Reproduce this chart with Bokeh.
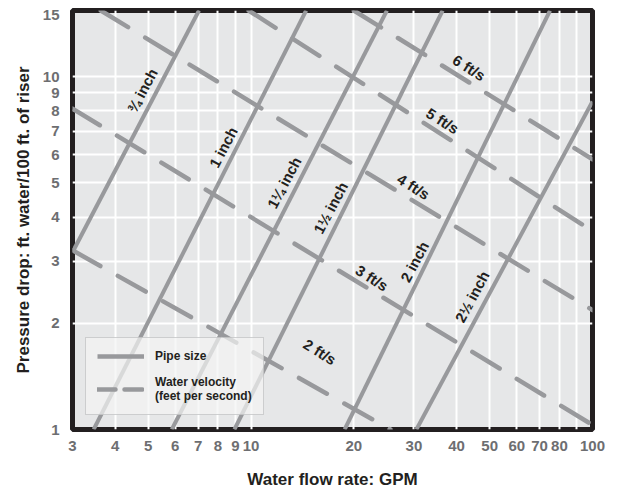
from bokeh.plotting import figure
from bokeh.models import FixedTicker, Legend, LegendItem, ColumnDataSource
from bokeh.core.properties import value
from bokeh.embed import file_html
from bokeh.resources import INLINE

# ---- data ----
x_ticks = [3, 4, 5, 6, 7, 8, 9, 10, 20, 30, 40, 50, 60, 70, 80, 100]
x_tick_labels = ["3", "4", "5", "6", "7", "8", "9", "10", "20", "30", "40", "50", "60", "70", "80", "100"]
x_grid = [3, 4, 5, 6, 7, 8, 9, 10, 20, 30, 40, 50, 60, 70, 80, 90, 100]
y_ticks = [1, 2, 3, 4, 5, 6, 7, 8, 9, 10, 15]
y_tick_labels = ["1", "2", "3", "4", "5", "6", "7", "8", "9", "10", "15"]
y_grid = [1, 2, 3, 4, 5, 6, 7, 8, 9, 10]

pipe_sizes = ["¾ inch", "1 inch", "1¼ inch", "1½ inch", "2 inch", "2½ inch"]
pipe_flow_start = [3.0, 3.46, 5.86, 8.94, 18.8, 30.5]
pipe_drop_start = [3.18, 1.0, 1.0, 1.0, 1.0, 1.0]
pipe_flow_end = [7.04, 14.5, 25.0, 36.4, 75.1, 100.0]
pipe_drop_end = [15.4, 15.4, 15.4, 15.4, 15.4, 8.5]
pipe_label_flow = [4.80, 8.29, 12.5, 17.1, 30.1, 44.4]
pipe_label_drop = [9.14, 6.31, 5.01, 4.25, 2.99, 2.38]

velocities = ["2 ft/s", "3 ft/s", "4 ft/s", "5 ft/s", "6 ft/s"]
vel_flow_start = [3.0, 3.0, 3.63, 9.84, 20.0]
vel_drop_start = [3.22, 8.12, 15.4, 15.4, 15.4]
vel_flow_end = [25.6, 100.0, 100.0, 100.0, 100.0]
vel_drop_end = [1.0, 1.03, 2.18, 3.65, 5.83]
vel_label_flow = [15.9, 22.6, 29.9, 36.4, 43.5]
vel_label_drop = [1.66, 2.69, 4.88, 7.50, 10.6]

# ---- styles ----
LINE_GRAY = "#98999c"
DARK = "#231f20"
TICK_GRAY = "#6d6e71"
FONT = "Liberation Sans"

p = figure(x_axis_type="log", y_axis_type="log",
           x_range=(3, 100), y_range=(1, 15.4),
           frame_width=520, frame_height=419,
           min_border_left=72, min_border_right=14,
           min_border_top=10, min_border_bottom=52,
           output_backend="svg", toolbar_location=None)

p.background_fill_color = "#e6e7e8"
p.border_fill_color = "white"
p.outline_line_color = DARK
p.outline_line_width = 5

p.xgrid.ticker = FixedTicker(ticks=x_grid)
p.ygrid.ticker = FixedTicker(ticks=y_grid)
for g in (p.xgrid, p.ygrid):
    g.grid_line_color = "white"
    g.grid_line_width = 2
    g.minor_grid_line_color = None

p.xaxis.ticker = FixedTicker(ticks=x_ticks)
p.yaxis.ticker = FixedTicker(ticks=y_ticks)
p.xaxis.major_label_overrides = {t: s for t, s in zip(x_ticks, x_tick_labels)}
p.yaxis.major_label_overrides = {t: s for t, s in zip(y_ticks, y_tick_labels)}

for ax in (p.xaxis, p.yaxis):
    ax.axis_line_color = None
    ax.major_tick_line_color = None
    ax.minor_tick_line_color = None
    ax.major_label_text_font = FONT
    ax.major_label_text_font_style = "bold"
    ax.major_label_text_font_size = "15px"
    ax.major_label_text_color = TICK_GRAY
    ax.axis_label_text_font = FONT
    ax.axis_label_text_font_style = "bold"
    ax.axis_label_text_font_size = "17px"
    ax.axis_label_text_color = DARK

p.xaxis.axis_label = "Water flow rate: GPM"
p.yaxis.axis_label = "Pressure drop: ft. water/100 ft. of riser"
p.xaxis.major_label_standoff = 5
p.xaxis.axis_label_standoff = 16
p.yaxis.major_label_standoff = 7
p.yaxis.axis_label_standoff = 7

# velocity lines (dashed)
vel_src = ColumnDataSource(dict(
    xs=[[a, b] for a, b in zip(vel_flow_start, vel_flow_end)],
    ys=[[a, b] for a, b in zip(vel_drop_start, vel_drop_end)],
))
p.multi_line("xs", "ys", source=vel_src, line_color=LINE_GRAY, line_width=4.5,
             line_dash="32 20", line_cap="round")

# pipe size lines (solid)
pipe_src = ColumnDataSource(dict(
    xs=[[a, b] for a, b in zip(pipe_flow_start, pipe_flow_end)],
    ys=[[a, b] for a, b in zip(pipe_drop_start, pipe_drop_end)],
))
p.multi_line("xs", "ys", source=pipe_src, line_color=LINE_GRAY, line_width=4)

# labels
pipe_lbl = ColumnDataSource(dict(x=pipe_label_flow, y=pipe_label_drop, text=pipe_sizes))
p.text("x", "y", text="text", source=pipe_lbl, angle=62, angle_units="deg",
       text_font=value(FONT), text_font_style="bold", text_font_size="15px",
       text_color=DARK, text_align="center", text_baseline="middle")
vel_lbl = ColumnDataSource(dict(x=vel_label_flow, y=vel_label_drop, text=velocities))
p.text("x", "y", text="text", source=vel_lbl, angle=-32, angle_units="deg",
       text_font=value(FONT), text_font_style="bold", text_font_size="15px",
       text_color=DARK, text_align="center", text_baseline="middle")

# legend samples (not drawn in the plot area)
nan = float("nan")
leg_pipe = p.line(x=[nan, nan], y=[nan, nan], line_color=LINE_GRAY, line_width=4.5)
leg_vel = p.line(x=[nan, nan], y=[nan, nan], line_color=LINE_GRAY, line_width=4.5,
                 line_dash="18 9", line_cap="round")
legend = Legend(items=[LegendItem(label="Pipe size", renderers=[leg_pipe]),
                       LegendItem(label="Water velocity\n(feet per second)", renderers=[leg_vel])],
                location=(13, 14), orientation="vertical")
legend.background_fill_color = "#f4f4f4"
legend.background_fill_alpha = 0.7
legend.border_line_color = "#a7a9ac"
legend.border_line_width = 1
legend.padding = 11
legend.spacing = 12
legend.margin = 0
legend.glyph_width = 47
legend.glyph_height = 12
legend.label_height = 12
legend.label_standoff = 11
legend.label_text_font = FONT
legend.label_text_font_style = "bold"
legend.label_text_font_size = "12px"
legend.label_text_color = DARK
p.add_layout(legend)

open("out.html", "w").write(file_html(p, INLINE))
